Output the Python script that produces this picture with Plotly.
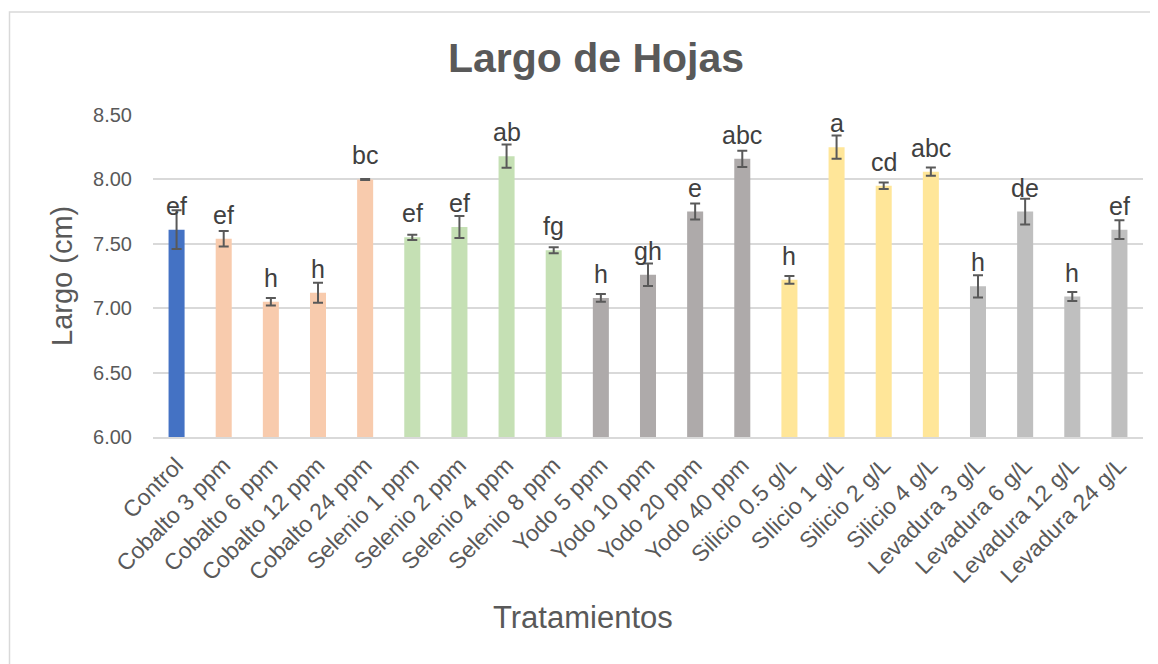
import plotly.graph_objects as go

# treatments, means, standard errors and Tukey letters
tratamientos = [
    "Control", "Cobalto 3 ppm", "Cobalto 6 ppm", "Cobalto 12 ppm", "Cobalto 24 ppm",
    "Selenio 1 ppm", "Selenio 2 ppm", "Selenio 4 ppm", "Selenio 8 ppm",
    "Yodo 5 ppm", "Yodo 10 ppm", "Yodo 20 ppm", "Yodo 40 ppm",
    "Silicio 0.5 g/L", "SIlicio 1 g/L", "Silicio 2 g/L", "Silicio 4 g/L",
    "Levadura 3 g/L", "Levadura 6 g/L", "Levadura 12 g/L", "Levadura 24 g/L",
]
largo = [
    7.61, 7.54, 7.05, 7.12, 8.00,
    7.55, 7.63, 8.18, 7.45,
    7.08, 7.26, 7.75, 8.16,
    7.22, 8.25, 7.95, 8.06,
    7.17, 7.75, 7.09, 7.61,
]
error = [
    0.15, 0.06, 0.03, 0.077, 0.004,
    0.02, 0.085, 0.09, 0.023,
    0.03, 0.087, 0.062, 0.063,
    0.03, 0.09, 0.025, 0.032,
    0.086, 0.10, 0.035, 0.072,
]
letras = [
    "ef", "ef", "h", "h", "bc",
    "ef", "ef", "ab", "fg",
    "h", "gh", "e", "abc",
    "h", "a", "cd", "abc",
    "h", "de", "h", "ef",
]
colores = (
    ["#4472C4"] + ["#F8CBAD"] * 4 + ["#C5E0B4"] * 4
    + ["#AEAAAA"] * 4 + ["#FFE699"] * 4 + ["#BFBFBF"] * 4
)

FONT = "Arial, Liberation Sans, sans-serif"
GRIS = "#595959"

# page has an 8px body offset, so the layout is shifted up/left by that much
OFF = 8
L, R, T, B = 153 - OFF, 1143 - OFF, 115 - OFF, 437 - OFF
PW, PH = R - L, B - T

fig = go.Figure()
fig.add_trace(go.Bar(
    x=tratamientos,
    y=largo,
    marker=dict(color=colores, line=dict(width=0)),
    error_y=dict(type="data", array=error, visible=True,
                 color=GRIS, thickness=2, width=5),
    width=0.34,
    showlegend=False,
))

# significance letters just above each bar
for t, v, l in zip(tratamientos, largo, letras):
    fig.add_annotation(
        x=t, y=v, text=l, showarrow=False,
        yanchor="bottom", yshift=8,
        font=dict(family=FONT, size=25, color="#404040"),
    )

# axis titles placed as annotations
fig.add_annotation(
    text="Tratamientos", xref="paper", yref="paper",
    x=(583 - OFF - L) / PW, y=(B - (617 - OFF)) / PH,
    showarrow=False, xanchor="center", yanchor="middle",
    font=dict(family=FONT, size=31, color=GRIS),
)
fig.add_annotation(
    text="Largo (cm)", xref="paper", yref="paper",
    x=(62 - OFF - L) / PW, y=0.5, textangle=-90,
    showarrow=False, xanchor="center", yanchor="middle",
    font=dict(family=FONT, size=29, color=GRIS),
)

# chart-area border
fig.add_shape(
    type="rect", xref="paper", yref="paper",
    x0=(9.5 - OFF - L) / PW, x1=1.2, y0=-0.8, y1=(B - (12 - OFF)) / PH,
    line=dict(color="#D9D9D9", width=1.5), fillcolor="rgba(0,0,0,0)",
    layer="below",
)

fig.update_layout(
    width=1158, height=664,
    margin=dict(l=L, r=1158 - R, t=T, b=664 - B),
    paper_bgcolor="white", plot_bgcolor="white",
    title=dict(
        text="<b>Largo de Hojas</b>", x=(596 - OFF) / 1158, xanchor="center",
        y=1 - (58 - OFF) / 664, yanchor="middle",
        font=dict(family=FONT, size=41, color=GRIS),
    ),
    xaxis=dict(
        tickangle=-45, tickfont=dict(family=FONT, size=23, color=GRIS),
        showgrid=False, showline=True, linecolor="#D9D9D9", linewidth=1.5,
        ticks="", ticklabelstandoff=4,
    ),
    yaxis=dict(
        range=[6, 8.5], dtick=0.5, tickformat=".2f",
        tickfont=dict(family=FONT, size=20, color=GRIS),
        showgrid=True, gridcolor="#D9D9D9", gridwidth=1.5,
        zeroline=False, showline=False, ticks="", ticklabelstandoff=20,
    ),
)

fig.write_html("out.html")
